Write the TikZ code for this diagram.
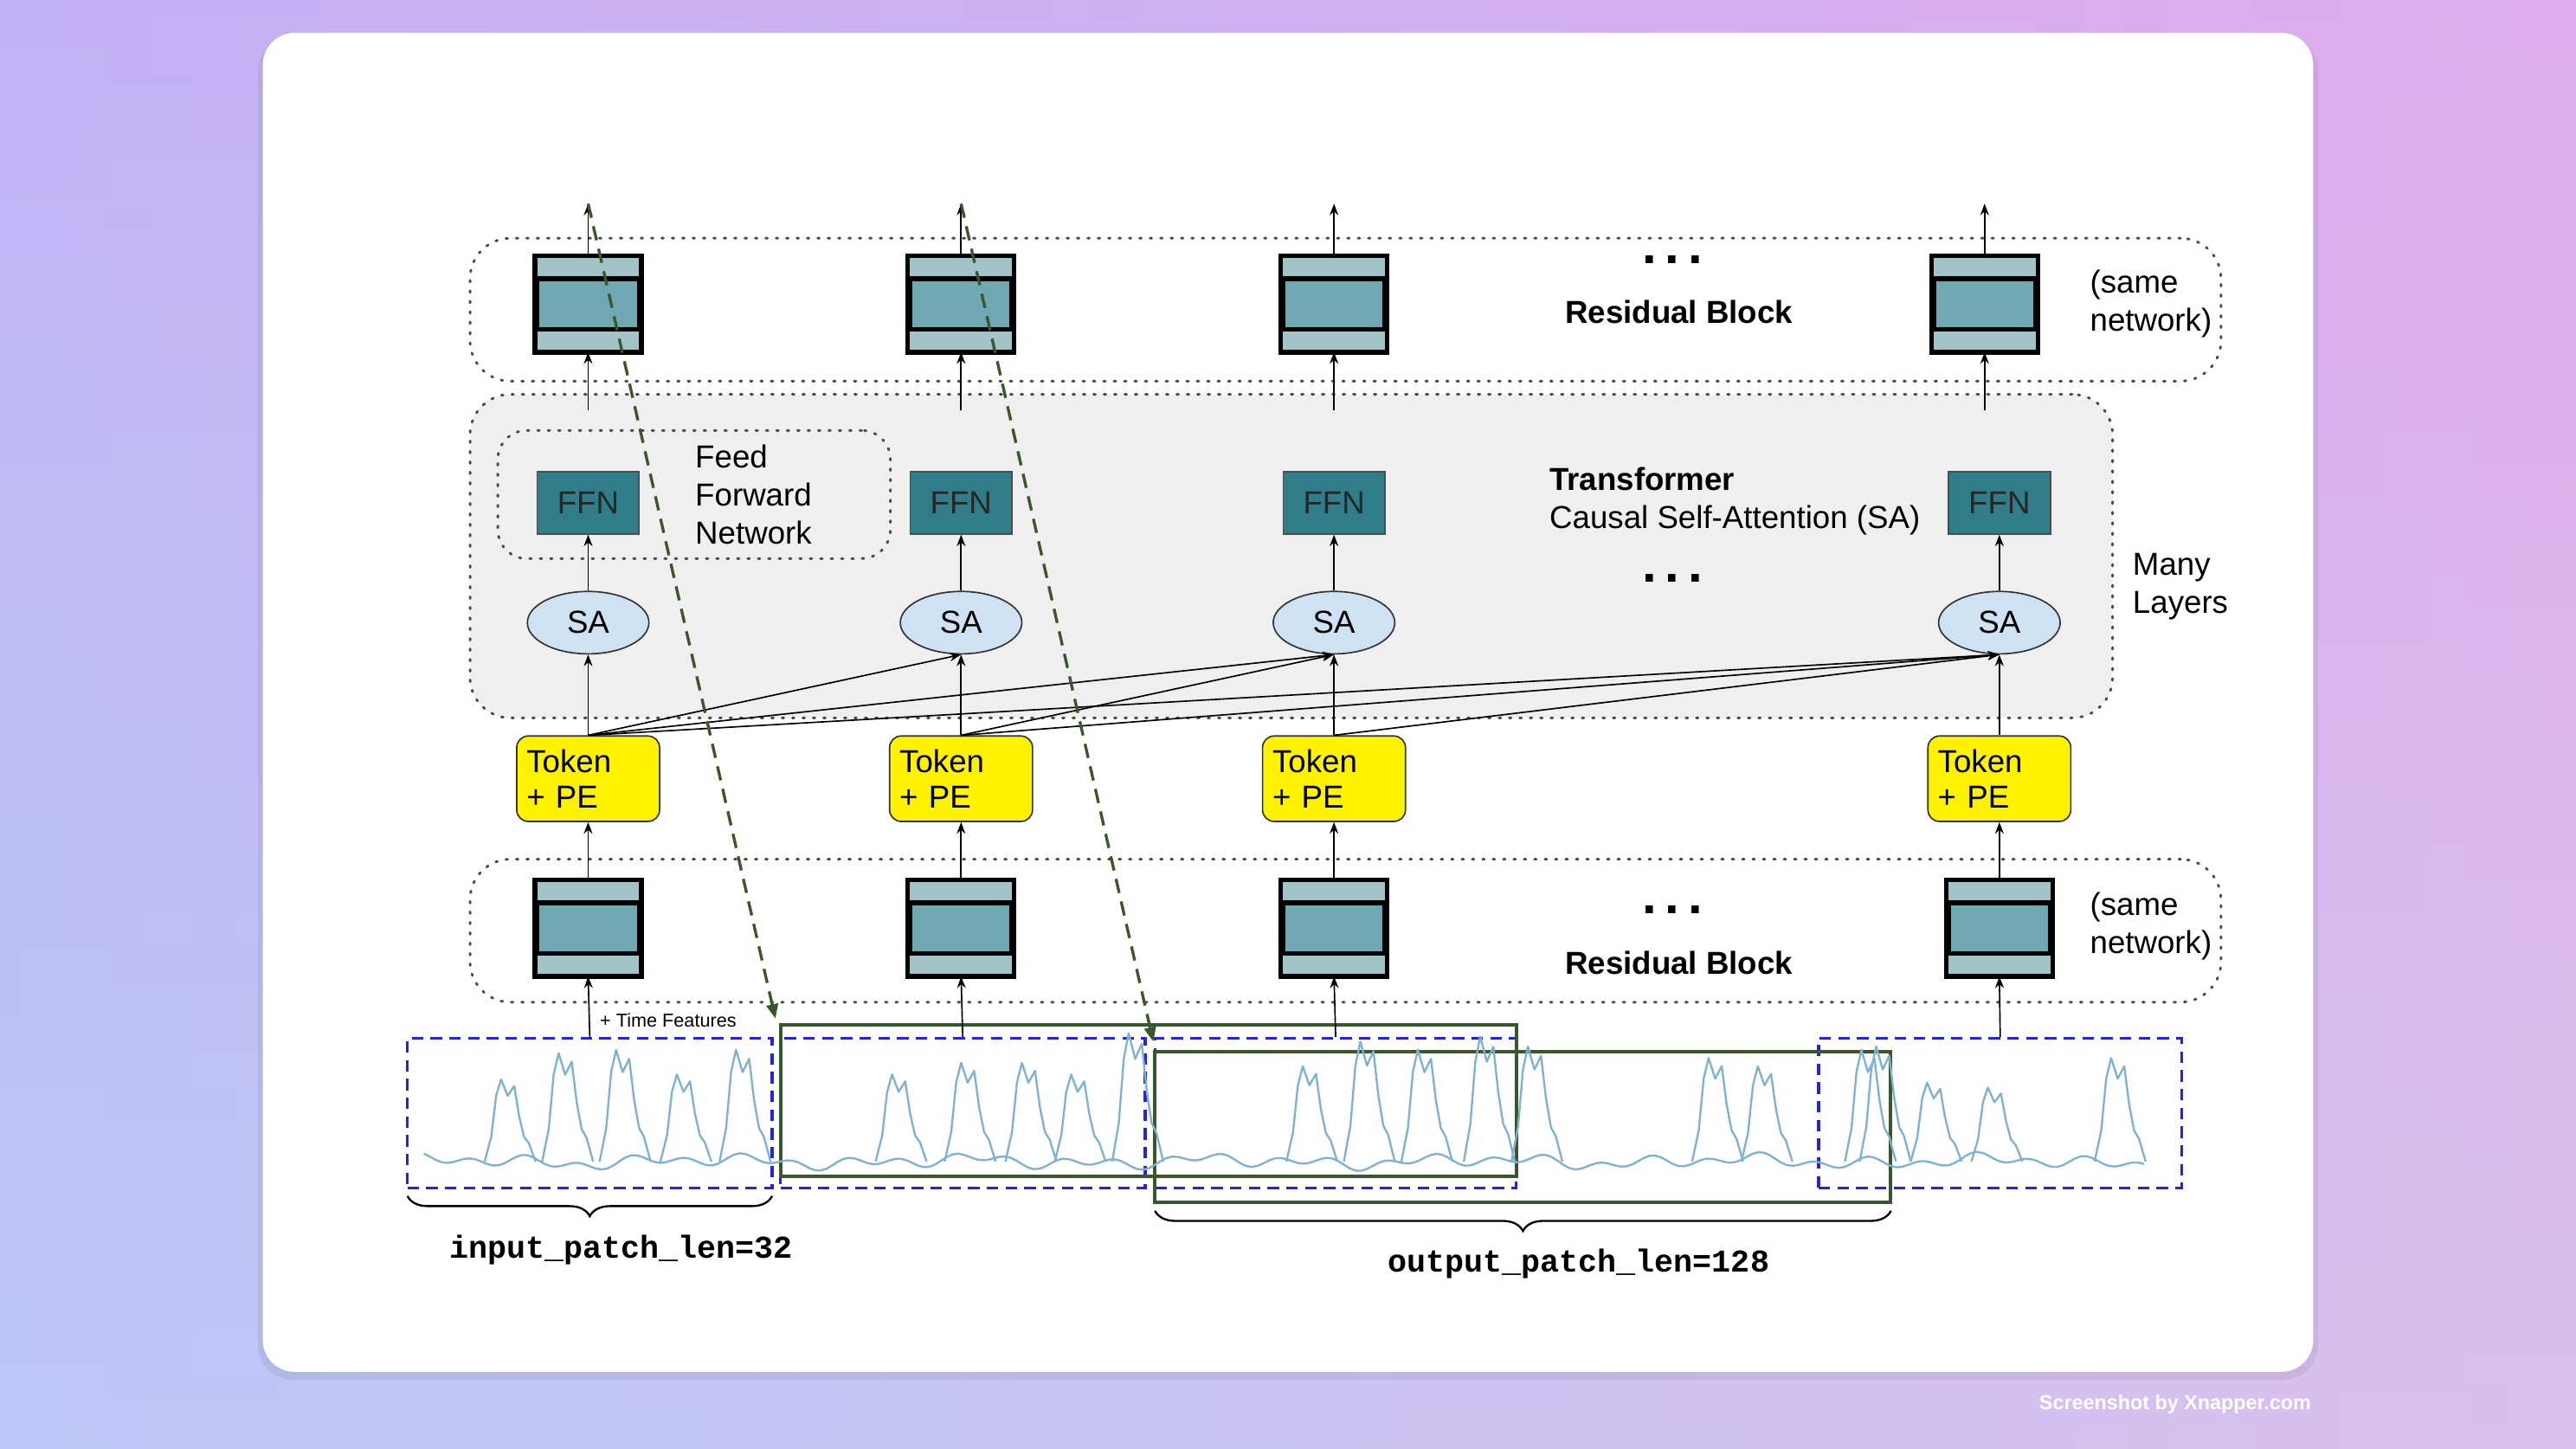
\documentclass[tikz,border=0pt]{standalone}
\usepackage{fontspec}
\setmainfont{Liberation Sans}
\newfontfamily\monof{Liberation Mono}
\usetikzlibrary{arrows.meta,decorations.pathreplacing,shapes.geometric}
\definecolor{bandc}{HTML}{A2C4C9}
\definecolor{midc}{HTML}{6FA8B2}
\definecolor{ffnc}{HTML}{2F7D88}
\definecolor{sac}{HTML}{CFE2F3}
\definecolor{grayc}{HTML}{EFEFEF}
\definecolor{gdark}{HTML}{38572A}
\definecolor{serc}{HTML}{7FB1D3}
\definecolor{bluec}{HTML}{2222EE}
\tikzset{
  u/.style={x=0.02cm,y=-0.02cm},
  arr/.style={-{Stealth[length=4pt,width=3pt]},line width=0.5pt},
  res/.style={draw=black,line width=1.6pt,fill=midc,minimum width=1.24cm,minimum height=1.12cm,inner sep=0},
  ffn/.style={draw=black!70,line width=0.5pt,fill=ffnc,minimum width=1.24cm,minimum height=0.76cm,font=\fontsize{11}{12}\selectfont,text=black!85},
  sa/.style={ellipse,draw=black!80,line width=0.5pt,fill=sac,minimum width=1.48cm,minimum height=0.76cm,font=\fontsize{11}{12}\selectfont},
  tok/.style={draw=black!80,line width=0.5pt,fill=yellow,rounded corners=4pt,minimum width=1.74cm,minimum height=1.04cm,align=left,font=\fontsize{11}{12.5}\selectfont,inner sep=2pt,text width=1.5cm},
  dotbox/.style={draw=black!70,line width=0.9pt,dash pattern=on 0.6pt off 3pt,line cap=round,rounded corners=14pt},
  txt/.style={font=\fontsize{11}{13.2}\selectfont,align=left},
  bdots/.style={font=\fontsize{18}{18}\selectfont\bfseries},
  patch/.style={draw=bluec,line width=1pt,dash pattern=on 4pt off 2.5pt},
  gbox/.style={draw=gdark,line width=1.2pt},
  gdash/.style={draw=gdark,line width=1pt,dash pattern=on 5pt off 3pt,-{Triangle[length=5pt,width=4pt]}},
  series/.style={draw=serc,line width=0.7pt,line join=round},
  lbl/.style={font=\monof\bfseries\fontsize{11}{12}\selectfont}
}
\begin{document}
\begin{tikzpicture}[u]
\useasboundingbox (0,0) rectangle (1568,882);
% background
\shade[left color={rgb,255:red,186;green,176;blue,246}, right color={rgb,255:red,246;green,164;blue,226}] (0,0) rectangle (1568,882);
\shade[top color={rgb,255:red,200;green,180;blue,246}, bottom color={rgb,255:red,190;green,222;blue,248}, opacity=0.5] (0,0) rectangle (1568,882);
\fill[black,opacity=0.06,rounded corners=12pt] (157,23) rectangle (1411,840);
\fill[white,rounded corners=11pt] (160,20) rectangle (1408,835);
\node[white,font=\fontsize{7}{8}\selectfont\bfseries] (shot) at (1324,855) {Screenshot by Xnapper.com};

% containers
\node[dotbox,fill=grayc,minimum width=20cm,minimum height=3.94cm] (tbox) at (786,338.5) {};
\node[dotbox,minimum width=21.32cm,minimum height=1.74cm] (rtop) at (819,188.5) {};
\node[dotbox,minimum width=21.32cm,minimum height=1.74cm] (rbot) at (819,566.5) {};
\node[dotbox,minimum width=4.78cm,minimum height=1.56cm,rounded corners=10pt] (fbox) at (422.5,301) {};

% residual blocks
\node[res] (rt1) at (358,185) {};
\node[res] (rt2) at (585,185) {};
\node[res] (rt3) at (812,185) {};
\node[res] (rt4) at (1208,185) {};
\node[res] (rb1) at (358,565) {};
\node[res] (rb2) at (585,565) {};
\node[res] (rb3) at (812,565) {};
\node[res] (rb4) at (1217,565) {};
\foreach \n in {rt1,rt2,rt3,rt4,rb1,rb2,rb3,rb4}{
  \fill[bandc] (\n.north west) rectangle ([yshift=-0.27cm]\n.north east);
  \fill[bandc] (\n.south west) rectangle ([yshift=0.27cm]\n.south east);
  \draw[line width=1.6pt] ([yshift=-0.28cm]\n.north west) -- ([yshift=-0.28cm]\n.north east);
  \draw[line width=1.6pt] ([yshift=0.28cm]\n.south west) -- ([yshift=0.28cm]\n.south east);
  \draw[line width=1.6pt] (\n.north west) rectangle (\n.south east);
}

% FFN, SA, tokens
\node[ffn] (f1) at (358,306) {FFN};
\node[ffn] (f2) at (585,306) {FFN};
\node[ffn] (f3) at (812,306) {FFN};
\node[ffn] (f4) at (1217,306) {FFN};
\node[sa] (s1) at (358,379) {SA};
\node[sa] (s2) at (585,379) {SA};
\node[sa] (s3) at (812,379) {SA};
\node[sa] (s4) at (1217,379) {SA};
\node[tok] (t1) at (358,474) {Token\\+ PE};
\node[tok] (t2) at (585,474) {Token\\+ PE};
\node[tok] (t3) at (812,474) {Token\\+ PE};
\node[tok] (t4) at (1217,474) {Token\\+ PE};

% texts
\node[txt,anchor=west] (ffnt) at (417,301) {Feed\\Forward\\Network};
\node[txt,anchor=west] (trt) at (937,305) {\textbf{Transformer}\\Causal Self-Attention (SA)};
\node[txt,anchor=west] (many) at (1292,357) {Many\\Layers};
\node[txt,anchor=west] (sn1) at (1266,185) {(same\\network)};
\node[txt,anchor=west] (sn2) at (1266,564) {(same\\network)};
\node[txt,font=\fontsize{11}{12}\selectfont\bfseries] (rbt1) at (1022,190) {Residual Block};
\node[txt,font=\fontsize{11}{12}\selectfont\bfseries] (rbt2) at (1022,586) {Residual Block};
\node[bdots] (d1) at (1018,158) {.\,.\,.};
\node[bdots] (d2) at (1018,352) {.\,.\,.};
\node[bdots] (d3) at (1018,554) {.\,.\,.};
\node[font=\fontsize{6.5}{7}\selectfont,anchor=west] (tf) at (359,621) {+ Time Features};

% output coordinates
\coordinate (o1) at (358,124);
\coordinate (o2) at (585,124);
\coordinate (o3) at (812,124);
\coordinate (o4) at (1208,124);
\coordinate (i1) at (358,250);
\coordinate (i2) at (585,250);
\coordinate (i3) at (812,250);
\coordinate (i4) at (1208,250);

% vertical arrows
\foreach \k in {1,2,3,4}{
  \draw[arr] (rt\k.north) -- (o\k);
  \draw[arr] (i\k) -- (rt\k.south);
  \draw[arr] (s\k.north) -- (f\k.south);
  \draw[arr] (t\k.north) -- (s\k.south);
  \draw[arr] (rb\k.north) -- (t\k.south);
}
\draw[arr] (t1.north) -- (s2.south);
\draw[arr] (t1.north) -- (s3.south);
\draw[arr] (t1.north) -- (s4.south);
\draw[arr] (t2.north) -- (s3.south);
\draw[arr] (t2.north) -- (s4.south);
\draw[arr] (t3.north) -- (s4.south);

% patches
\node[patch,minimum width=4.44cm,minimum height=1.82cm] (p1) at (359,677.5) {};
\node[patch,minimum width=4.44cm,minimum height=1.82cm] (p2) at (586,677.5) {};
\node[patch,minimum width=4.40cm,minimum height=1.82cm] (p3) at (813,677.5) {};
\node[patch,minimum width=4.42cm,minimum height=1.82cm] (p4) at (1217.5,677.5) {};
\node[gbox,minimum width=8.96cm,minimum height=1.84cm] (g1) at (699,670) {};
\node[gbox,minimum width=8.96cm,minimum height=1.84cm] (g2) at (927,686) {};
\draw[arr] (p1.north) -- (rb1.south);
\draw[arr] (p2.north) -- (rb2.south);
\draw[arr] (p3.north) -- (rb3.south);
\draw[arr] (p4.north) -- (rb4.south);

% series
\draw[series] plot[domain=258:1305,samples=300] (\x,{707+2.5*sin(\x*11)+2*sin(\x*5.3)+1.5*sin(\x*2.3)});
\foreach \p/\h in {310/50,345/66,380/68,417/53,453/68,548/53,590/60,627/60,657/53,692/78,798/58,833/73,868/68,906/76,935/70,1045/63,1075/58,1138/68,1147/70,1178/48,1215/45,1290/63}{
  \draw[series] ({\p-15},707) -- ({\p-11},{707-0.3*\h}) -- ({\p-8},{707-0.8*\h}) -- ({\p-5},{707-\h}) -- ({\p-1},{707-0.8*\h}) -- ({\p+3},{707-0.92*\h}) -- ({\p+6},{707-0.55*\h}) -- ({\p+9},{707-0.3*\h}) -- ({\p+12},{707-0.22*\h}) -- ({\p+16},707);
}

% green dashed arrows
\coordinate (a1) at (472,620);
\coordinate (a2) at (702,634);
\draw[gdash] (o1) -- (a1);
\draw[gdash] (o2) -- (a2);

% braces
\draw[decorate,decoration={brace,mirror,amplitude=7pt},line width=0.7pt] (248,728) -- (470,728);
\draw[decorate,decoration={brace,mirror,amplitude=7pt},line width=0.7pt] (703,737) -- (1151,737);
\node[lbl] (l1) at (378,761) {input\_patch\_len=32};
\node[lbl] (l2) at (961,769) {output\_patch\_len=128};
\end{tikzpicture}
\end{document}
